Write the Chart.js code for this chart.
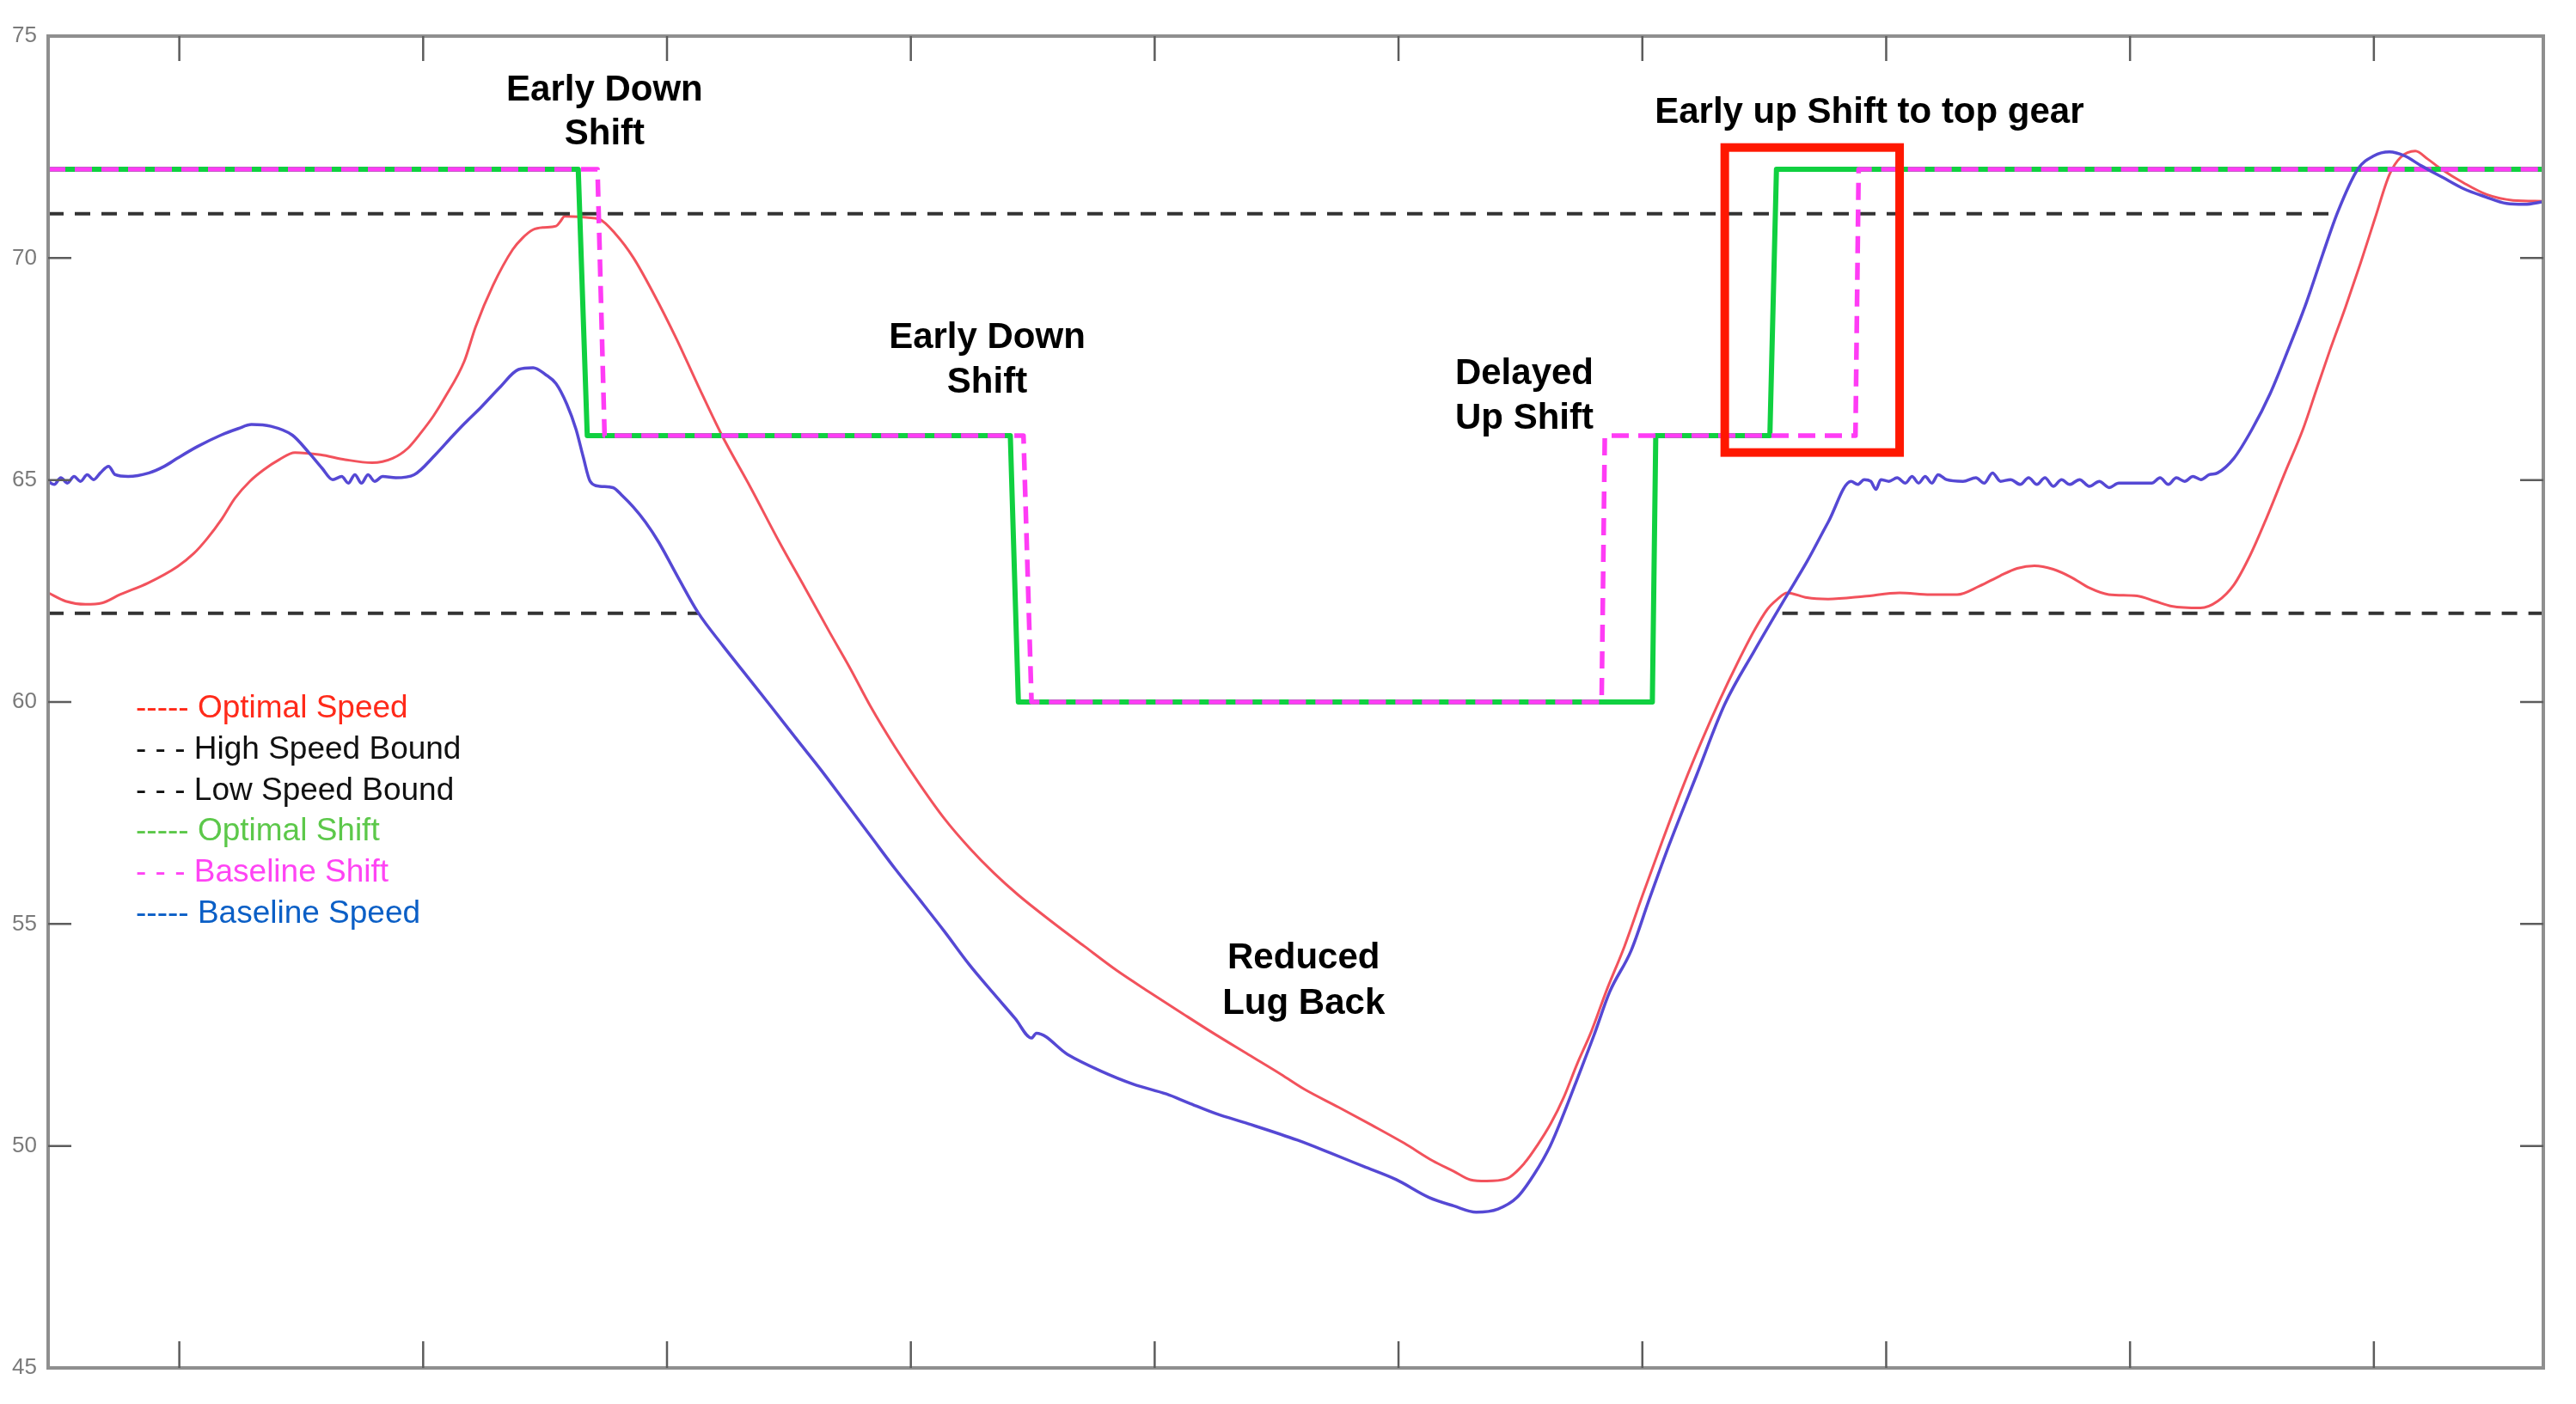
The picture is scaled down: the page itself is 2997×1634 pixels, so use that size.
<!DOCTYPE html>
<html>
<head>
<meta charset="utf-8">
<script src="https://cdn.jsdelivr.net/npm/chart.js@4.4.1/dist/chart.umd.min.js"></script>
<style>
  html, body { margin: 0; padding: 0; background: #fff; }
  #wrap { width: 2997px; height: 1634px; }
</style>
</head>
<body>
<div id="wrap"><canvas id="shift-chart" width="2997" height="1634"></canvas></div>
<script>
// x axis is time (unlabelled in the original), y axis is speed
const xTicks = [100, 200, 300, 400, 500, 600, 700, 800, 900, 1000];
const yTicks = [45, 50, 55, 60, 65, 70, 75];

const optimalSpeedT = [46.2, 53.4, 61.5, 68.3, 75.7, 87.1, 99.2, 106.0, 111.4, 117.4,
  122.8, 128.9, 134.6, 141.0, 147.4, 157.9, 168.0, 179.1, 187.5, 193.6,
  199.3, 204.3, 208.7, 216.9, 221.5, 228.6, 236.7, 240.7, 245.1, 249.5,
  254.5, 256.2, 258.0, 263.6, 267.6, 272.1, 279.1, 286.2, 294.6, 303.8,
  312.8, 322.5, 334.3, 346.1, 356.6, 366.7, 374.8, 383.5, 393.6, 403.7,
  413.8, 423.9, 434.0, 444.1, 457.6, 471.1, 484.5, 498.0, 511.5, 522.9,
  538.4, 551.9, 561.3, 575.5, 589.0, 602.4, 613.9, 622.6, 629.4, 636.1,
  644.2, 651.6, 657.0, 662.4, 667.8, 673.2, 679.1, 685.3, 692.7, 700.1,
  708.2, 716.9, 724.4, 731.8, 739.2, 745.9, 751.3, 755.3, 759.4, 767.5,
  776.2, 791.0, 805.5, 818.0, 829.1, 838.2, 846.6, 853.7, 860.8, 868.5,
  875.9, 883.3, 891.3, 902.9, 910.3, 917.0, 928.9, 935.9, 942.6, 949.3,
  956.1, 963.5, 970.9, 976.3, 981.7, 988.4, 994.5, 1000.5, 1006.4, 1011.0,
  1017.0, 1022.1, 1027.5, 1036.9, 1046.3, 1057.1, 1069.5];
const optimalSpeed = [62.46, 62.27, 62.20, 62.23, 62.42, 62.68, 63.05, 63.35, 63.68, 64.12,
  64.59, 64.97, 65.23, 65.46, 65.62, 65.57, 65.46, 65.39, 65.49, 65.71,
  66.08, 66.45, 66.84, 67.68, 68.45, 69.38, 70.19, 70.45, 70.64, 70.69,
  70.72, 70.82, 70.94, 70.93, 70.91, 70.88, 70.53, 70.01, 69.19, 68.19,
  67.12, 66.01, 64.83, 63.60, 62.57, 61.57, 60.79, 59.90, 58.98, 58.14,
  57.37, 56.72, 56.15, 55.65, 55.06, 54.50, 53.95, 53.46, 52.98, 52.58,
  52.06, 51.61, 51.28, 50.87, 50.47, 50.06, 49.67, 49.43, 49.24, 49.21,
  49.26, 49.61, 50.02, 50.50, 51.10, 51.84, 52.58, 53.50, 54.50, 55.65,
  56.87, 58.13, 59.13, 60.05, 60.90, 61.61, 62.09, 62.31, 62.46, 62.35,
  62.32, 62.38, 62.46, 62.42, 62.42, 62.61, 62.84, 63.01, 63.07, 62.99,
  62.81, 62.57, 62.42, 62.39, 62.27, 62.16, 62.12, 62.27, 62.64, 63.31,
  64.16, 65.16, 66.14, 67.01, 67.88, 68.90, 69.88, 70.90, 71.88, 72.27,
  72.41, 72.23, 72.01, 71.69, 71.43, 71.30, 71.28];

const baselineSpeedT = [46.2, 48.7, 51.4, 54.1, 56.8, 59.5, 62.2, 64.9, 67.6, 71.0,
  73.7, 79.0, 87.6, 93.9, 99.2, 107.3, 117.0, 124.2, 129.6, 137.6,
  146.4, 153.1, 158.5, 162.9, 166.6, 169.3, 172.0, 174.7, 177.4, 180.1,
  183.4, 188.8, 196.3, 205.0, 211.7, 216.9, 223.9, 231.3, 239.1, 245.1,
  250.1, 254.5, 258.9, 262.7, 265.6, 268.5, 272.4, 277.8, 281.8, 286.2,
  291.2, 296.6, 304.7, 312.8, 322.9, 333.0, 343.1, 353.2, 363.3, 373.4,
  383.5, 393.6, 403.7, 413.8, 423.9, 434.0, 442.8, 449.5, 451.5, 464.3,
  477.8, 491.3, 504.8, 513.9, 525.0, 538.4, 558.6, 572.1, 585.6, 599.1,
  612.5, 622.6, 631.9, 640.8, 648.6, 655.6, 662.2, 667.8, 673.8, 680.2,
  686.6, 695.4, 702.8, 710.9, 722.3, 733.8, 745.9, 758.7, 767.5, 776.2,
  785.6, 788.3, 791.0, 793.7, 795.8, 797.8, 801.1, 804.5, 807.9, 810.6,
  813.3, 816.0, 818.7, 821.3, 824.7, 831.5, 836.8, 840.2, 843.6, 846.9,
  851.0, 855.0, 858.4, 861.8, 865.1, 868.5, 871.9, 875.2, 879.3, 883.3,
  887.4, 891.4, 895.4, 902.2, 908.9, 912.3, 915.7, 919.0, 922.4, 925.8,
  929.1, 932.5, 935.9, 942.6, 950.0, 957.4, 964.8, 972.2, 979.0, 985.2,
  993.5, 999.9, 1006.4, 1012.7, 1019.4, 1028.1, 1036.9, 1045.7, 1054.4, 1061.8,
  1069.5];
const baselineSpeed = [64.97, 64.90, 65.05, 64.93, 65.08, 64.97, 65.12, 65.01, 65.16, 65.31,
  65.12, 65.08, 65.16, 65.31, 65.49, 65.75, 66.01, 66.16, 66.25, 66.21,
  66.01, 65.62, 65.27, 65.01, 65.08, 64.93, 65.12, 64.93, 65.12, 64.97,
  65.08, 65.05, 65.12, 65.57, 65.97, 66.27, 66.65, 67.08, 67.49, 67.53,
  67.38, 67.17, 66.71, 66.14, 65.53, 64.97, 64.86, 64.83, 64.64, 64.39,
  64.05, 63.60, 62.79, 62.01, 61.27, 60.57, 59.87, 59.16, 58.46, 57.72,
  56.98, 56.24, 55.54, 54.83, 54.09, 53.43, 52.87, 52.43, 52.54, 52.06,
  51.69, 51.39, 51.17, 50.97, 50.73, 50.50, 50.13, 49.84, 49.54, 49.24,
  48.84, 48.65, 48.51, 48.58, 48.84, 49.36, 50.00, 50.73, 51.58, 52.50,
  53.47, 54.40, 55.55, 56.77, 58.36, 59.95, 61.15, 62.35, 63.16, 64.05,
  64.97, 64.90, 65.01, 64.97, 64.79, 65.01, 64.97, 65.05, 64.93, 65.08,
  64.93, 65.08, 64.93, 65.12, 65.01, 64.97, 65.05, 64.93, 65.16, 64.97,
  65.01, 64.90, 65.05, 64.90, 65.05, 64.86, 65.01, 64.90, 65.01, 64.86,
  64.97, 64.83, 64.93, 64.93, 64.93, 65.05, 64.90, 65.05, 64.97, 65.08,
  65.01, 65.12, 65.16, 65.49, 66.14, 66.94, 67.93, 68.98, 70.08, 71.04,
  72.01, 72.30, 72.39, 72.30, 72.08, 71.82, 71.56, 71.38, 71.23, 71.21,
  71.27];

const optimalShiftT = [46.2, 263.6, 267.3, 440.8, 444.1, 704.1, 705.5, 752.3, 755.0, 1069.5];
const optimalShift = [72, 72, 66, 66, 60, 60, 66, 66, 72, 72];
const baselineShiftT = [46.2, 271.5, 274.4, 446.2, 449.5, 683.3, 684.6, 787.4, 788.7, 1069.5];
const baselineShift = [72, 72, 66, 66, 60, 60, 66, 66, 72, 72];

const highBoundT = [46.2, 984.7];
const highBound = [71, 71];
const lowBoundT = [46.2, 312.8, 312.9, 757.4, 1069.5];
const lowBound = [62, 62, null, 62, 62];

// text notes placed in data space
const notes = [
  { lines: ['Early Down', 'Shift'], t: 274.4, v: [73.78, 72.78] },
  { lines: ['Early Down', 'Shift'], t: 431.3, v: [68.19, 67.19] },
  { lines: ['Delayed', 'Up Shift'], t: 651.6, v: [67.38, 66.38] },
  { lines: ['Early up Shift to top gear'], t: 793.1, v: [73.26] },
  { lines: ['Reduced', 'Lug Back'], t: 561.1, v: [54.22, 53.20] }
];
const highlightBox = { t0: 733.8, t1: 805.5, v0: 72.49, v1: 65.62 };

const legendRows = [
  { dash: '-----', label: 'Optimal Speed', color: '#ff2a1a' },
  { dash: '- - -', label: 'High Speed Bound', color: '#111111' },
  { dash: '- - -', label: 'Low Speed Bound', color: '#111111' },
  { dash: '-----', label: 'Optimal Shift', color: '#5cc84a' },
  { dash: '- - -', label: 'Baseline Shift', color: '#ff44f4' },
  { dash: '-----', label: 'Baseline Speed', color: '#0b5fc6' }
];

function pts(ts, vs) {
  return ts.map((t, i) => ({ x: t, y: vs[i] }));
}

const overlay = {
  id: 'overlay',
  afterDatasetsDraw(chart) {
    const { ctx, chartArea: a, scales: { x, y } } = chart;
    ctx.save();

    // box round the axes
    ctx.strokeStyle = '#8f8f8f';
    ctx.lineWidth = 4;
    ctx.strokeRect(a.left, a.top, a.right - a.left, a.bottom - a.top);

    // inward tick marks on all four sides
    ctx.strokeStyle = '#5c5c5c';
    ctx.lineWidth = 2.5;
    ctx.beginPath();
    xTicks.forEach(t => {
      const px = x.getPixelForValue(t);
      ctx.moveTo(px, a.bottom); ctx.lineTo(px, a.bottom - 31);
      ctx.moveTo(px, a.top); ctx.lineTo(px, a.top + 29);
    });
    yTicks.slice(1, -1).forEach(v => {
      const py = y.getPixelForValue(v);
      ctx.moveTo(a.left, py); ctx.lineTo(a.left + 27, py);
      ctx.moveTo(a.right, py); ctx.lineTo(a.right - 27, py);
    });
    ctx.stroke();

    // red highlight box
    const bx0 = x.getPixelForValue(highlightBox.t0);
    const bx1 = x.getPixelForValue(highlightBox.t1);
    const by0 = y.getPixelForValue(highlightBox.v0);
    const by1 = y.getPixelForValue(highlightBox.v1);
    ctx.strokeStyle = '#ff1800';
    ctx.lineWidth = 10;
    ctx.strokeRect(bx0, by0, bx1 - bx0, by1 - by0);

    // notes
    ctx.fillStyle = '#000';
    ctx.font = 'bold 42px "Liberation Sans", Arial, sans-serif';
    ctx.textAlign = 'center';
    ctx.textBaseline = 'middle';
    notes.forEach(n => {
      n.lines.forEach((s, i) => {
        ctx.fillText(s, x.getPixelForValue(n.t), y.getPixelForValue(n.v[i]));
      });
    });

    // legend
    ctx.font = '37px "Liberation Sans", Arial, sans-serif';
    ctx.textAlign = 'left';
    legendRows.forEach((r, i) => {
      ctx.fillStyle = r.color;
      ctx.fillText(r.dash + ' ' + r.label, 158, 825 + i * 47.7);
    });

    ctx.restore();
  }
};

const ctx = document.getElementById('shift-chart').getContext('2d');

new Chart(ctx, {
  type: 'line',
  data: {
    datasets: [
      {
        label: 'Baseline Speed',
        data: pts(baselineSpeedT, baselineSpeed),
        borderColor: '#5548d4',
        borderWidth: 3.5,
        cubicInterpolationMode: 'monotone',
        order: 1
      },
      {
        label: 'Baseline Shift',
        data: pts(baselineShiftT, baselineShift),
        borderColor: '#ff3cf5',
        borderWidth: 5.5,
        borderDash: [20, 11],
        order: 2
      },
      {
        label: 'Optimal Shift',
        data: pts(optimalShiftT, optimalShift),
        borderColor: '#10d040',
        borderWidth: 6,
        order: 3
      },
      {
        label: 'Low Speed Bound',
        data: pts(lowBoundT, lowBound),
        borderColor: '#333333',
        borderWidth: 4,
        borderDash: [18, 13],
        spanGaps: false,
        order: 4
      },
      {
        label: 'High Speed Bound',
        data: pts(highBoundT, highBound),
        borderColor: '#333333',
        borderWidth: 4,
        borderDash: [18, 13],
        order: 5
      },
      {
        label: 'Optimal Speed',
        data: pts(optimalSpeedT, optimalSpeed),
        borderColor: '#f2525c',
        borderWidth: 3,
        cubicInterpolationMode: 'monotone',
        order: 6
      }
    ]
  },
  options: {
    responsive: false,
    devicePixelRatio: 1,
    animation: false,
    events: [],
    elements: { point: { radius: 0 }, line: { fill: false, borderJoinStyle: 'round' } },
    layout: { padding: { top: 42, right: 38, left: 0, bottom: 0 } },
    plugins: { legend: { display: false }, tooltip: { enabled: false } },
    scales: {
      x: {
        type: 'linear',
        min: 46.2,
        max: 1069.5,
        grid: { display: false, drawTicks: false },
        border: { display: false },
        ticks: { display: false },
        afterFit(scale) { scale.width = scale.width; scale.height = 42; }
      },
      y: {
        min: 45,
        max: 75,
        grid: { display: false, drawTicks: false },
        border: { display: false },
        ticks: {
          stepSize: 5,
          padding: 13,
          color: '#7a7a7a',
          font: { family: '"Liberation Sans Narrow", "Liberation Sans", Arial, sans-serif', size: 26 },
          callback: v => (yTicks.includes(v) ? String(v) : '')
        },
        afterFit(scale) { scale.width = 56; }
      }
    }
  },
  plugins: [overlay]
});
</script>
</body>
</html>
